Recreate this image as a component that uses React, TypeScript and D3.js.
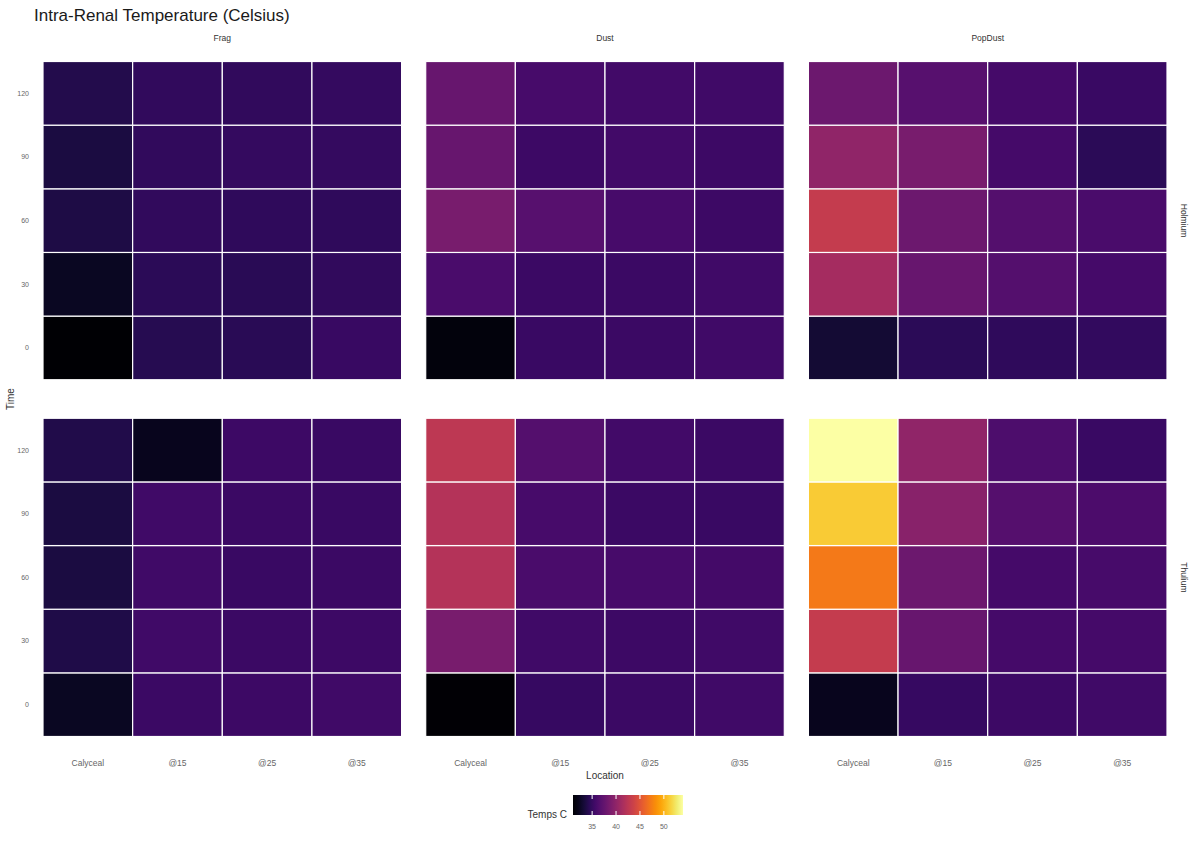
import React from "react";
import * as d3 from "d3";

// fibre / mode / probe location / sample time
const lasers = ["Holmium", "Thulium"];
const methods = ["Frag", "Dust", "PopDust"];
const locations = ["Calyceal", "@15", "@25", "@35"];
const times = [0, 30, 60, 90, 120];
const legendTicks = [35, 40, 45, 50];

// rows follow times (0 .. 120), columns follow locations
const holmiumFrag = [
  [31.0, 34.2, 34.4, 35.1],
  [32.4, 34.5, 34.4, 34.7],
  [33.7, 34.7, 34.6, 34.6],
  [33.6, 34.7, 34.9, 34.9],
  [34.0, 34.7, 34.7, 34.9],
];
const holmiumDust = [
  [31.5, 35.2, 35.3, 35.5],
  [36.1, 35.3, 35.3, 35.5],
  [38.7, 36.8, 35.9, 35.4],
  [37.7, 35.4, 35.6, 35.4],
  [37.7, 35.9, 35.6, 35.5],
];
const holmiumPopDust = [
  [33.1, 34.5, 34.6, 34.8],
  [41.2, 37.7, 36.6, 35.8],
  [43.1, 38.0, 36.6, 36.1],
  [40.0, 38.7, 35.8, 34.5],
  [38.0, 36.8, 35.8, 35.2],
];
const thuliumFrag = [
  [32.4, 35.3, 35.4, 35.5],
  [33.8, 35.5, 35.3, 35.4],
  [33.6, 35.5, 35.2, 35.3],
  [33.6, 35.5, 35.3, 35.2],
  [33.9, 32.2, 35.4, 35.2],
];
const thuliumDust = [
  [31.1, 35.0, 35.3, 35.5],
  [38.7, 35.5, 35.4, 35.5],
  [42.1, 36.1, 35.9, 35.7],
  [42.1, 35.9, 35.3, 35.2],
  [42.6, 36.6, 35.6, 35.3],
];
const thuliumPopDust = [
  [32.2, 35.0, 35.4, 35.5],
  [43.1, 37.7, 35.8, 35.8],
  [47.2, 38.0, 35.8, 35.9],
  [51.2, 39.6, 36.7, 36.2],
  [54.0, 40.0, 36.3, 35.2],
];

const grids = {
  Holmium: { Frag: holmiumFrag, Dust: holmiumDust, PopDust: holmiumPopDust },
  Thulium: { Frag: thuliumFrag, Dust: thuliumDust, PopDust: thuliumPopDust },
};

const font = "'Liberation Sans', Arial, Helvetica, sans-serif";

export default function App() {
  const width = 1200;
  const height = 841;

  const cells = [];
  lasers.forEach((laser) =>
    methods.forEach((method) =>
      grids[laser][method].forEach((row, ti) =>
        row.forEach((v, li) =>
          cells.push({ laser, method, time: times[ti], location: locations[li], value: v })
        )
      )
    )
  );

  const extent = d3.extent(cells, (d) => d.value);
  const color = d3.scaleSequential(d3.interpolateInferno).domain(extent);

  const colX = d3.scaleBand().domain(methods).range([43, 1167]).paddingInner(0.063);
  const rowY = d3.scaleBand().domain(lasers).range([61.5, 736.5]).paddingInner(0.108);
  const x = d3.scaleBand().domain(locations).range([0, colX.bandwidth()]);
  const y = d3.scaleBand().domain(times.map(String)).range([rowY.bandwidth(), 0]);

  // colour bar
  const legX = d3.scaleLinear().domain(extent).range([573, 683]);
  const legTop = 795;
  const legH = 20;
  const stops = d3.range(0, 1.0001, 0.05).map((t) => extent[0] + t * (extent[1] - extent[0]));

  return (
    <svg
      width={width}
      height={height}
      style={{ position: "absolute", left: 0, top: 0, background: "#fff" }}
      fontFamily={font}
    >
      <defs>
        <linearGradient id="temps-grad" x1="0" x2="1" y1="0" y2="0">
          {stops.map((s, i) => (
            <stop key={i} offset={(i / (stops.length - 1)) * 100 + "%"} stopColor={color(s)} />
          ))}
        </linearGradient>
      </defs>

      <text x={34} y={21} fontSize={17} fill="#1a1a1a">
        Intra-Renal Temperature (Celsius)
      </text>

      {methods.map((m) => (
        <text key={m} x={colX(m) + colX.bandwidth() / 2} y={41} fontSize={8.5} fill="#333" textAnchor="middle">
          {m}
        </text>
      ))}

      {lasers.map((l) => (
        <text
          key={l}
          transform={`translate(1181,${rowY(l) + rowY.bandwidth() / 2}) rotate(90)`}
          fontSize={8.5}
          fill="#333"
          textAnchor="middle"
        >
          {l}
        </text>
      ))}

      {lasers.map((l) =>
        methods.map((m) => (
          <g key={l + m} transform={`translate(${colX(m)},${rowY(l)})`}>
            {cells
              .filter((c) => c.laser === l && c.method === m)
              .map((c, i) => (
                <rect
                  key={i}
                  x={x(c.location)}
                  y={y(String(c.time))}
                  width={x.bandwidth()}
                  height={y.bandwidth()}
                  fill={color(c.value)}
                  stroke="#fff"
                  strokeWidth={1.2}
                />
              ))}
          </g>
        ))
      )}

      {/* y tick labels, left column only */}
      {lasers.map((l) =>
        times.map((t) => (
          <text
            key={l + t}
            x={29}
            y={rowY(l) + y(String(t)) + y.bandwidth() / 2}
            dy="0.35em"
            fontSize={7}
            fill="#666"
            textAnchor="end"
          >
            {t}
          </text>
        ))
      )}

      {/* x tick labels, bottom row only */}
      {methods.map((m) =>
        locations.map((loc) => (
          <text
            key={m + loc}
            x={colX(m) + x(loc) + x.bandwidth() / 2}
            y={766}
            fontSize={8.5}
            fill="#666"
            textAnchor="middle"
          >
            {loc}
          </text>
        ))
      )}

      <text x={605} y={779} fontSize={10} fill="#333" textAnchor="middle">
        Location
      </text>
      <text transform="translate(14,399) rotate(-90)" fontSize={10} fill="#333" textAnchor="middle">
        Time
      </text>

      <text x={567} y={818} fontSize={10} fill="#333" textAnchor="end">
        Temps C
      </text>
      <rect x={legX(extent[0])} y={legTop} width={legX(extent[1]) - legX(extent[0])} height={legH} fill="url(#temps-grad)" />
      {legendTicks.map((t) => (
        <g key={t}>
          <line x1={legX(t)} x2={legX(t)} y1={legTop} y2={legTop + 4} stroke="#fff" strokeWidth={1} />
          <line x1={legX(t)} x2={legX(t)} y1={legTop + legH - 4} y2={legTop + legH} stroke="#fff" strokeWidth={1} />
          <text x={legX(t)} y={829} fontSize={7} fill="#666" textAnchor="middle">
            {t}
          </text>
        </g>
      ))}
    </svg>
  );
}
